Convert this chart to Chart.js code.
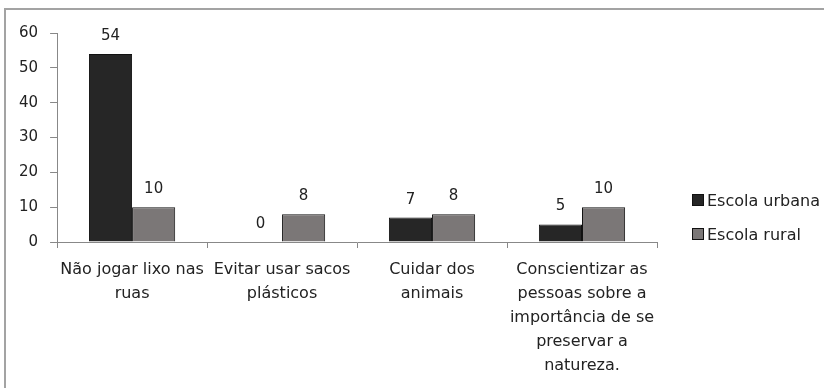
<!DOCTYPE html>
<html>
<head>
<meta charset="utf-8">
<script src="https://cdn.jsdelivr.net/npm/chart.js@4/dist/chart.umd.min.js"></script>
<style>
  body { margin: 0; background: #fff; font-family: "DejaVu Sans", sans-serif; }
  #frame {
    position: absolute; left: 4px; top: 8px; width: 820px; height: 380px;
    border-top: 2px solid #a3a3a3; border-left: 2px solid #a3a3a3;
  }
  #box { position: absolute; left: 0; top: 0; width: 818px; height: 378px; }
  #legend { position: absolute; left: 686px; top: 173px; }
</style>
</head>
<body>
<div id="frame">
  <div id="box"><canvas id="chart"></canvas></div>
  <div id="legend"></div>
</div>
<script>
const categories = [
  ['Não jogar lixo nas', 'ruas'],
  ['Evitar usar sacos', 'plásticos'],
  ['Cuidar dos', 'animais'],
  ['Conscientizar as', 'pessoas sobre a', 'importância de se', 'preservar a', 'natureza.'],
];
const seriesNames = ['Escola urbana', 'Escola rural'];
const urbana = [54, 0, 7, 5];
const rural = [10, 8, 8, 10];
const yTicks = [0, 10, 20, 30, 40, 50, 60];

const COLOURS = ['#262626', '#7b7777'];
const FONT = '"DejaVu Sans", sans-serif';

function makeLegend(labels, id) {
  const legendContainer = document.getElementById(id);
  const list = document.createElement('ul');
  list.style.listStyle = 'none';
  list.style.margin = 0;
  list.style.padding = 0;

  labels.forEach((label, i) => {
    const li = document.createElement('li');
    li.style.display = 'flex';
    li.style.alignItems = 'center';
    li.style.height = '34px';

    const box = document.createElement('span');
    box.style.display = 'inline-block';
    box.style.width = '10px';
    box.style.height = '10px';
    box.style.background = COLOURS[i];
    box.style.border = '1px solid #111';
    box.style.marginRight = '3px';

    const text = document.createElement('span');
    text.style.fontSize = '16px';
    text.style.color = '#222';
    text.textContent = label;

    li.appendChild(box);
    li.appendChild(text);
    list.appendChild(li);
  });
  legendContainer.appendChild(list);
}

// value above each bar, placed from the bar elements
const valueLabels = {
  id: 'valueLabels',
  afterDatasetsDraw(chart) {
    const ctx = chart.ctx;
    ctx.save();
    ctx.font = '15px ' + FONT;
    ctx.fillStyle = '#222';
    ctx.textAlign = 'center';
    ctx.textBaseline = 'middle';
    chart.data.datasets.forEach((ds, i) => {
      chart.getDatasetMeta(i).data.forEach((bar, j) => {
        ctx.fillText(ds.data[j], bar.x, bar.y - 18);
      });
    });
    ctx.restore();
  },
};

const ctx = document.getElementById('chart');
new Chart(ctx, {
  type: 'bar',
  data: {
    labels: categories,
    datasets: [urbana, rural].map((values, i) => ({
      label: seriesNames[i],
      data: values,
      backgroundColor: COLOURS[i],
      borderColor: '#111',
      borderWidth: 1,
      borderSkipped: 'bottom',
      barPercentage: 1,
      categoryPercentage: 0.575,
    })),
  },
  options: {
    responsive: true,
    maintainAspectRatio: false,
    animation: false,
    layout: { padding: { left: 1, right: 167, top: 23, bottom: 0 } },
    plugins: {
      legend: { display: false },
      tooltip: { enabled: false },
    },
    scales: {
      x: {
        grid: { drawOnChartArea: false, drawTicks: true, tickLength: 6, color: '#888' },
        border: { color: '#888', width: 1 },
        ticks: {
          maxRotation: 0,
          autoSkip: false,
          padding: 10,
          color: '#222',
          font: { family: FONT, size: 16, lineHeight: 1.5 },
        },
      },
      y: {
        min: 0,
        max: 60,
        afterBuildTicks: (scale) => { scale.ticks = yTicks.map(v => ({ value: v })); },
        grid: { drawOnChartArea: false, drawTicks: true, tickLength: 7, color: '#888' },
        border: { color: '#888', width: 1 },
        ticks: {
          padding: 12,
          color: '#222',
          font: { family: FONT, size: 15 },
        },
      },
    },
  },
  plugins: [valueLabels],
});

makeLegend(seriesNames, 'legend');
</script>
</body>
</html>
